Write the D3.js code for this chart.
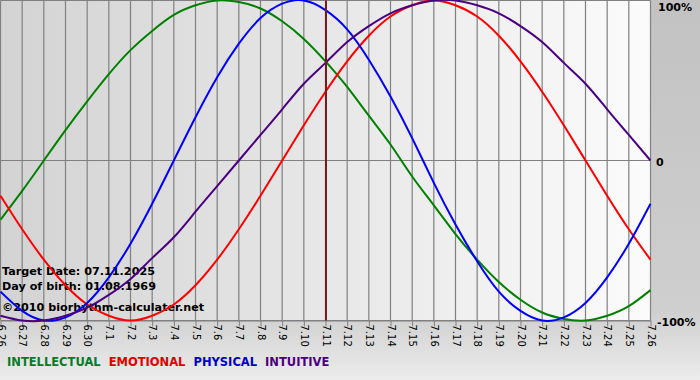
<!DOCTYPE html>
<html><head><meta charset="utf-8">
<script src="https://cdn.jsdelivr.net/npm/d3@7"></script>
<style>html,body{margin:0;padding:0;overflow:hidden;background:#c6c6c6}</style>
</head><body>
<script>
const dayLabels = ["6.26","6.27","6.28","6.29","6.30","7.1","7.2","7.3","7.4","7.5","7.6","7.7","7.8","7.9","7.10","7.11","7.12","7.13","7.14","7.15","7.16","7.17","7.18","7.19","7.20","7.21","7.22","7.23","7.24","7.25","7.26"];
const intellectual = [-0.37,-0.19,0,0.19,0.37,0.54,0.69,0.81,0.91,0.97,1.00,0.99,0.95,0.87,0.76,0.62,0.46,0.28,0.10,-0.10,-0.28,-0.46,-0.62,-0.76,-0.87,-0.95,-0.99,-1.00,-0.97,-0.91,-0.81];
const emotional = [-0.22,-0.43,-0.62,-0.78,-0.90,-0.97,-1.00,-0.97,-0.90,-0.78,-0.62,-0.43,-0.22,0,0.22,0.43,0.62,0.78,0.90,0.97,1.00,0.97,0.90,0.78,0.62,0.43,0.22,0,-0.22,-0.43,-0.62];
const physical = [-0.82,-0.94,-1.00,-0.98,-0.89,-0.73,-0.52,-0.27,0,0.27,0.52,0.73,0.89,0.98,1.00,0.94,0.82,0.63,0.40,0.14,-0.14,-0.40,-0.63,-0.82,-0.94,-1.00,-0.98,-0.89,-0.73,-0.52,-0.27];
const intuitive = [-0.97,-1.00,-1.00,-0.97,-0.92,-0.84,-0.74,-0.61,-0.48,-0.32,-0.16,0,0.16,0.32,0.48,0.61,0.74,0.84,0.92,0.97,1.00,1.00,0.97,0.92,0.84,0.74,0.61,0.48,0.32,0.16,0];
const seriesNames = ["INTELLECTUAL","EMOTIONAL","PHYSICAL","INTUITIVE"];
const yTickLabels = ["100%","0","-100%"];
const yTickValues = [1,0,-1];
const targetIndex = 15;
const infoLines = ["Target Date: 07.11.2025","Day of birth: 01.08.1969","\u00a92010 biorhythm-calculater.net"];

const colors = ["#008000","#ff0000","#0000ff","#4b0082"];
const legendColors = ["#0a7a2a","#e00000","#0000cc","#4b0082"];
const W=700,H=380;
const FONT="Verdana, 'DejaVu Sans', sans-serif";
const svg=d3.select("body").append("svg").attr("width",W).attr("height",H);
const defs=svg.append("defs");
const g1=defs.append("linearGradient").attr("id","plotbg").attr("x1","0").attr("x2","1").attr("y1","0").attr("y2","0");
g1.append("stop").attr("offset","0").attr("stop-color","#d3d3d3");
g1.append("stop").attr("offset","1").attr("stop-color","#fbfbfb");
const g2=defs.append("linearGradient").attr("id","outbg").attr("x1","0").attr("x2","0").attr("y1","0").attr("y2","1");
g2.append("stop").attr("offset","0").attr("stop-color","#c2c2c2");
g2.append("stop").attr("offset","0.82").attr("stop-color","#cfcfcf");
g2.append("stop").attr("offset","1").attr("stop-color","#ececec");
svg.append("rect").attr("width",W).attr("height",H).attr("fill","url(#outbg)");

const x=d3.scaleLinear().domain([0,30]).range([0.5,650.5]);
const y=d3.scaleLinear().domain([-1,1]).range([320.5,0.5]);

svg.append("rect").attr("x",x(0)).attr("y",y(1)).attr("width",x(30)-x(0)).attr("height",y(-1)-y(1)).attr("fill","url(#plotbg)");

const xAxis=d3.axisBottom(x).tickValues(d3.range(0,31)).tickFormat(i=>dayLabels[i]).tickSize(6).tickSizeOuter(0);
const ax=svg.append("g").attr("transform",`translate(0,${y(-1)})`).call(xAxis);
ax.select(".domain").attr("stroke","#808080");
ax.selectAll(".tick line").attr("stroke","#808080");
ax.selectAll(".tick text").attr("transform","rotate(90)").attr("x",4).attr("y",0).attr("dy","0.35em").attr("text-anchor","start")
  .style("font-family",FONT).style("font-size","10px").attr("fill","#000");

svg.append("g").selectAll("line").data(d3.range(0,31)).join("line")
  .attr("x1",d=>x(d)).attr("x2",d=>x(d)).attr("y1",y(1)).attr("y2",y(-1)).attr("stroke","#808080").attr("stroke-width",1.2);
svg.append("g").selectAll("line").data(yTickValues).join("line")
  .attr("x1",x(0)).attr("x2",x(30)).attr("y1",d=>y(d)).attr("y2",d=>y(d)).attr("stroke","#808080").attr("stroke-width",1.2);

const info=svg.append("g").style("font-family",FONT).style("font-size","11.2px").style("font-weight","bold");
info.selectAll("text").data(infoLines).join("text").attr("x",2).attr("y",(d,i)=>[275,290,311][i]).text(d=>d).attr("fill","#000");

const line=d3.line().x((d,i)=>x(i)).y(d=>y(d)).curve(d3.curveNatural);
[intellectual,emotional,physical,intuitive].forEach((s,k)=>{
  svg.append("path").attr("d",line(s)).attr("fill","none").attr("stroke",colors[k]).attr("stroke-width",2);
});

svg.append("line").attr("x1",x(targetIndex)+0.5).attr("x2",x(targetIndex)+0.5).attr("y1",y(1)).attr("y2",y(-1))
  .attr("stroke","#7a1a1a").attr("stroke-width",2);

svg.append("g").selectAll("text").data(yTickValues).join("text")
  .attr("x",(d,i)=>i===1?656:i===0?658:657).attr("y",(d,i)=>[11,166,326][i])
  .text((d,i)=>yTickLabels[i]).style("font-family",FONT).style("font-size","11px").style("font-weight","bold").attr("fill","#000");

const lg=svg.append("g").style("font-family",FONT).style("font-size","11.5px").style("font-weight","bold");
let lx=7;
seriesNames.forEach((n,k)=>{
  const t=lg.append("text").attr("x",lx).attr("y",366).attr("fill",legendColors[k]).text(n);
  lx+=t.node().getComputedTextLength()+8;
});
</script>
</body></html>
